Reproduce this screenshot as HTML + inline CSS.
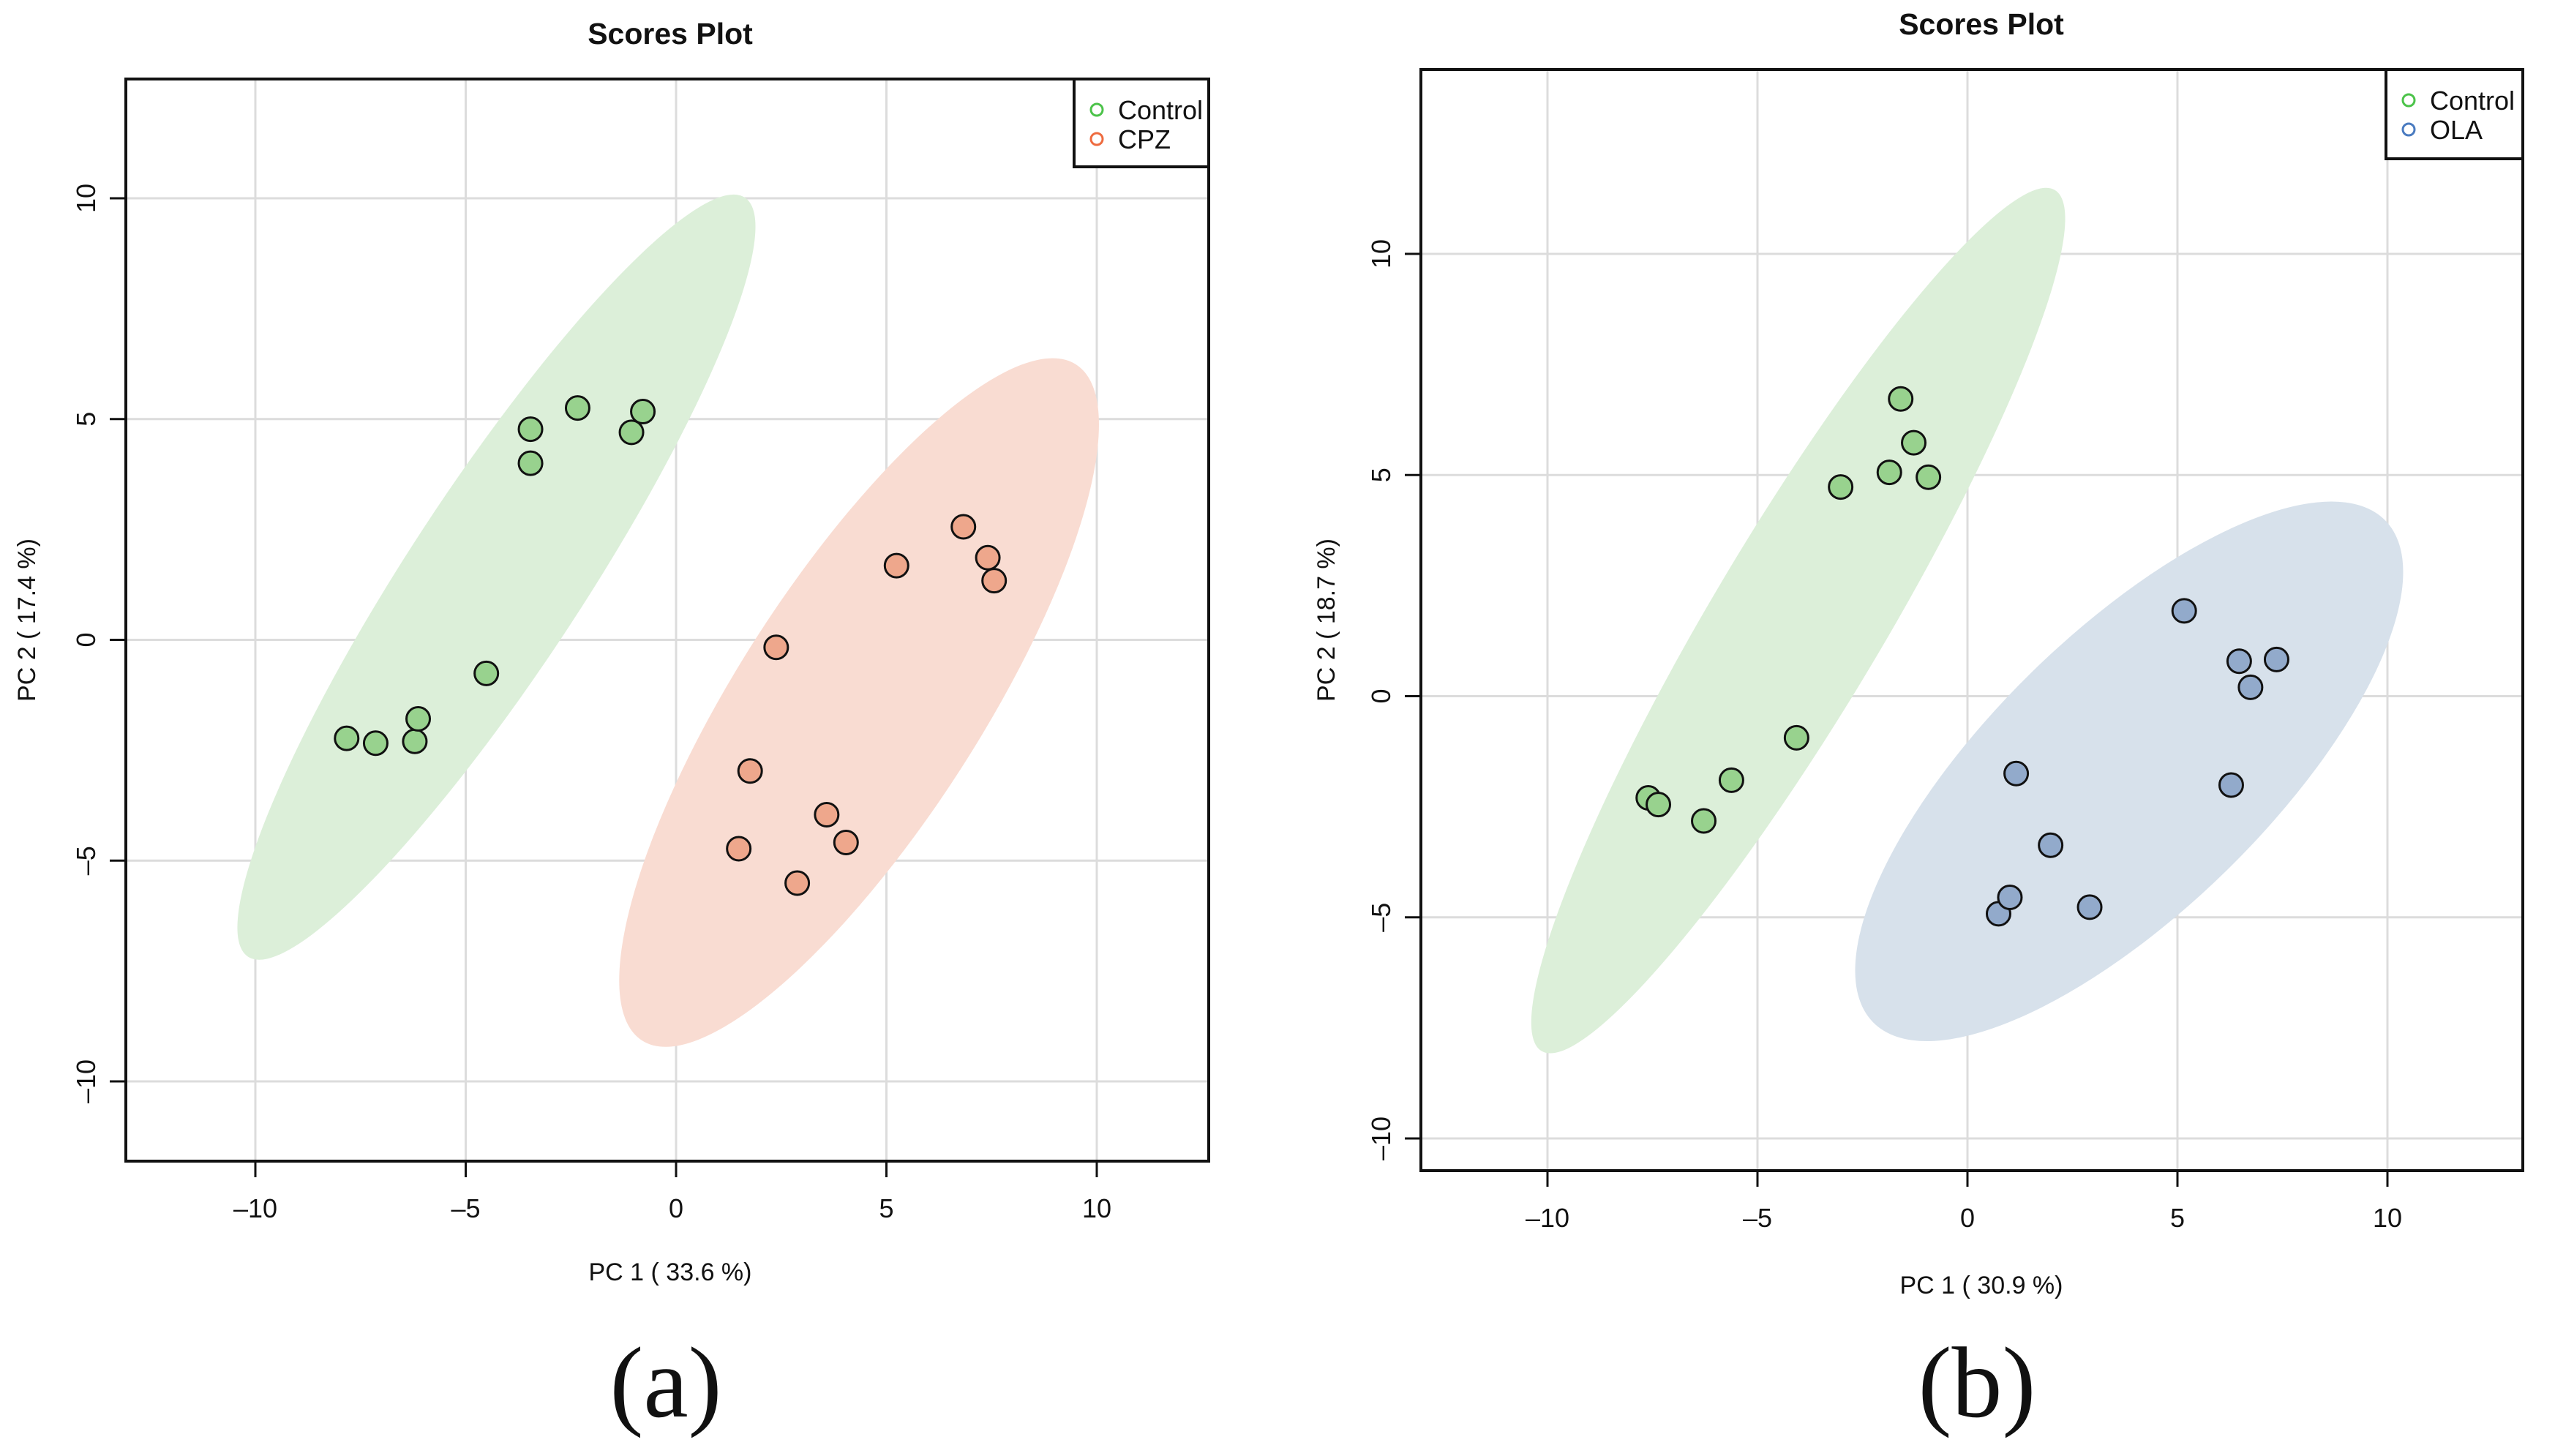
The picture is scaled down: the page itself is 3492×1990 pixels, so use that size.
<!DOCTYPE html>
<html><head><meta charset="utf-8"><style>
html,body{margin:0;padding:0;background:#fff;}
svg{display:block;font-family:"Liberation Sans",sans-serif;}
</style></head><body>
<svg id="fig" width="3492" height="1990" viewBox="0 0 3492 1990" xmlns="http://www.w3.org/2000/svg"></svg>
<script>
// ---- Panel (a) data ----
const aControlX = [-7.83,-7.14,-6.21,-6.13,-4.51,-3.46,-3.46,-2.34,-1.06,-0.79];
const aControlY = [-2.23,-2.34,-2.30,-1.79,-0.76,4.77,4.00,5.25,4.70,5.17];
const aCpzX = [1.49,1.76,2.38,2.88,3.58,4.04,5.24,6.83,7.41,7.56];
const aCpzY = [-4.73,-2.97,-0.17,-5.51,-3.96,-4.59,1.68,2.56,1.86,1.34];
// ---- Panel (b) data ----
const bControlX = [-7.60,-7.36,-6.28,-5.62,-4.07,-3.02,-1.86,-1.59,-1.28,-0.93];
const bControlY = [-2.30,-2.45,-2.82,-1.90,-0.94,4.73,5.06,6.72,5.73,4.95];
const bOlaX = [0.74,1.01,1.16,1.98,2.91,5.16,6.28,6.47,6.74,7.36];
const bOlaY = [-4.92,-4.55,-1.75,-3.37,-4.77,1.93,-2.01,0.79,0.20,0.83];
// ellipse centres (data units)
const aEllCenters = [[-4.27,1.42],[4.35,-1.42]];
const bEllCenters = [[-4.03,1.71],[3.85,-1.70]];
const tickVals = [-10,-5,0,5,10];
const tickLabels = ["-10","-5","0","5","10"];

const NS="http://www.w3.org/2000/svg";
const svg=document.getElementById('fig');
function mk(tag,attrs,parent){const e=document.createElementNS(NS,tag);for(const k in attrs)e.setAttribute(k,attrs[k]);(parent||svg).appendChild(e);return e;}

function panel(cfg){
  const g=mk('g',{});
  
  
  const sx=v=>cfg.x0+v*cfg.kx, sy=v=>cfg.y0-v*cfg.ky;
  tickVals.forEach(v=>{
    const l1=mk('line',{x1:sx(v),x2:sx(v),y1:cfg.top,y2:cfg.bottom,stroke:'#dcdcdc','stroke-width':3},g);
    
    
    const l2=mk('line',{x1:cfg.left,x2:cfg.right,y1:sy(v),y2:sy(v),stroke:'#dcdcdc','stroke-width':3},g);
    
    
  });
  cfg.ells.forEach((c,i)=>{
    const e=mk('ellipse',{cx:0,cy:0,rx:cfg.ellAxes[i][0],ry:cfg.ellAxes[i][1],fill:cfg.ellFill[i],
      transform:`translate(${sx(c[0])},${sy(c[1])}) rotate(${-cfg.ellAxes[i][2]})`},g);
    
    
  });
  cfg.series.forEach((s,i)=>{
    s[0].forEach((xv,j)=>{
      const p=mk('circle',{cx:sx(xv),cy:sy(s[1][j]),r:16,fill:cfg.ptFill[i],stroke:'#111','stroke-width':3},g);
      
      
    });
  });
  const b=mk('rect',{x:cfg.left,y:cfg.top,width:cfg.right-cfg.left,height:cfg.bottom-cfg.top,fill:'none',stroke:'#111','stroke-width':4},g);
  
  
  tickVals.forEach((v,i)=>{
    const t=mk('line',{x1:sx(v),x2:sx(v),y1:cfg.bottom,y2:cfg.bottom+22,stroke:'#111','stroke-width':3},g);
    
    
    const tl=mk('text',{x:sx(v),y:cfg.bottom+77,'font-size':36,'text-anchor':'middle',fill:'#111'},g);
    tl.textContent=tickLabels[i].replace('-','\u2013');
    
    
    const t2=mk('line',{x1:cfg.left-22,x2:cfg.left,y1:sy(v),y2:sy(v),stroke:'#111','stroke-width':3},g);
    
    
    const yl=mk('text',{x:0,y:0,'font-size':36,'text-anchor':'middle',fill:'#111',
      transform:`translate(${cfg.left-42},${sy(v)}) rotate(-90)`},g);
    yl.textContent=tickLabels[i].replace('-','\u2013');
    
    
  });
  const tt=mk('text',{x:cfg.titleX,y:cfg.titleY,'font-size':41,'font-weight':'bold','text-anchor':'middle',fill:'#111'},g);
  tt.textContent='Scores Plot';
  
  
  const xt=mk('text',{x:cfg.titleX,y:cfg.xTitleY,'font-size':34,'text-anchor':'middle',fill:'#111'},g);
  xt.textContent=cfg.xTitle;
  
  
  const yt=mk('text',{x:0,y:0,'font-size':34,'text-anchor':'middle',fill:'#111',
    transform:`translate(${cfg.yTitleX},${(cfg.top+cfg.bottom)/2}) rotate(-90)`},g);
  yt.textContent=cfg.yTitle;
  
  
  const lg=mk('g',{},g);
  
  
  mk('rect',{x:cfg.legL,y:cfg.top,width:cfg.right-cfg.legL,height:cfg.legB-cfg.top,fill:'#fff',stroke:'#111','stroke-width':4},lg);
  cfg.groups.forEach((n,i)=>{
    const cy=cfg.top+42+i*40;
    const c=mk('circle',{cx:cfg.legL+31,cy:cy,r:8,fill:'none',stroke:cfg.legCol[i],'stroke-width':3},lg);
    
    
    const t=mk('text',{x:cfg.legL+60,y:cy+13,'font-size':36,fill:'#111'},lg);
    t.textContent=cfg.legNames[i];
    
    
  });
  const pl=mk('text',{x:cfg.titleX-6,y:1936,'font-size':138,'text-anchor':'middle',fill:'#111','font-family':'Liberation Serif, serif'},g);
  pl.textContent=cfg.panelLabel;
  
  
}

panel({name:'panel-a',left:172,right:1652,top:108,bottom:1587,x0:924,kx:57.5,y0:874.5,ky:60.35,
  ells:aEllCenters,ellAxes:[[620,120,56.8],[549,166,57.3]],ellFill:['#dcefd9','#f9dcd2'],
  series:[[aControlX,aControlY],[aCpzX,aCpzY]],ptFill:['#98d28e','#eea78c'],groups:['control','cpz'],
  legL:1468,legB:228,legCol:['#4cc34a','#ee6b3f'],legNames:['Control','CPZ'],
  titleX:916,titleY:60,xTitleY:1750,yTitleX:48,xTitle:'PC 1 ( 33.6 %)',yTitle:'PC 2 ( 17.4 %)',panelLabel:'(a)'});
panel({name:'panel-b',left:1942,right:3448,top:95,bottom:1600,x0:2689,kx:57.4,y0:951.5,ky:60.45,
  ells:bEllCenters,ellAxes:[[685,117,59.2],[490,190,44.4]],ellFill:['#dcefd9','#d7e1eb'],
  series:[[bControlX,bControlY],[bOlaX,bOlaY]],ptFill:['#98d28e','#92aacb'],groups:['control','ola'],
  legL:3261,legB:217,legCol:['#4cc34a','#4a7bc0'],legNames:['Control','OLA'],
  titleX:2708,titleY:47,xTitleY:1768,yTitleX:1824,xTitle:'PC 1 ( 30.9 %)',yTitle:'PC 2 ( 18.7 %)',panelLabel:'(b)'});
</script>
</body></html>
